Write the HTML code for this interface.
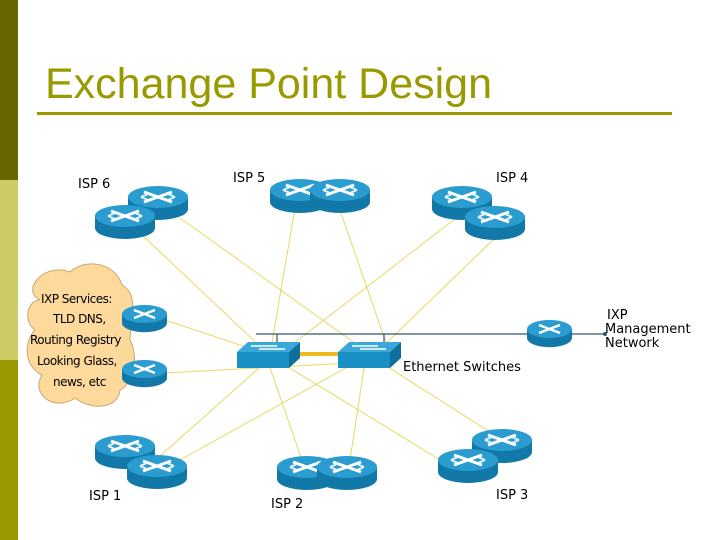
<!DOCTYPE html>
<html><head><style>
body{margin:0;width:720px;height:540px;background:#fff;overflow:hidden;position:relative;font-family:"Liberation Sans",sans-serif}
</style></head><body>
<svg width="720" height="540" style="position:absolute;left:0;top:0">
<defs>
<g id="r">
<path d="M0,11 L0,23 A30,11 0 0 0 60,23 L60,11 Z" fill="#1178a8"/>
<ellipse cx="30" cy="11" rx="30" ry="11" fill="#2a9ccf"/>
<path d="M16,6 L44,16 M44,6 L16,16" stroke="#fff" stroke-width="3"/>
<path d="M13,11 L20,8 M47,11 L40,8 M13,11 L20,14 M47,11 L40,14" stroke="#e8f4fa" stroke-width="2"/>
</g>
<g id="rs">
<path d="M0,9 L0,18 A22,9 0 0 0 45,18 L45,9 Z" fill="#1178a8"/>
<ellipse cx="22.5" cy="9" rx="22.5" ry="9" fill="#2a9ccf"/>
<path d="M12,5 L33,13 M33,5 L12,13" stroke="#fff" stroke-width="2.5"/>
</g>
<g id="s">
<path d="M0,12 L52,12 L63,2 L11,2 Z" fill="#3aa8d8"/>
<path d="M0,12 L52,12 L52,28 L0,28 Z" fill="#1a8fc4"/>
<path d="M52,12 L63,2 L63,18 L52,28 Z" fill="#0f6f9c"/>
<path d="M14,6 L40,6 M22,9 L48,9" stroke="#fff" stroke-width="1.5"/>
</g>
</defs>
<rect x="0" y="0" width="18" height="180" fill="#666600"/>
<rect x="0" y="180" width="18" height="180" fill="#cccc66"/>
<rect x="0" y="360" width="18" height="180" fill="#999900"/>
<text x="45" y="98" font-size="43" fill="#999900">Exchange Point Design</text>
<rect x="37" y="112" width="635" height="3" fill="#999900"/>
<path d="M40,300 C20,290 45,262 70,272 C85,258 115,262 122,285 C140,295 130,320 130,340 C140,360 132,385 120,390 C118,410 90,410 75,398 C55,412 30,395 42,375 C22,365 25,340 35,330 C22,320 28,300 40,300 Z" fill="#fdd99b" stroke="#c8a870" stroke-width="1"/>
<g stroke="#e8d860" stroke-width="1" fill="none">
<line x1="140" y1="233" x2="268" y2="354"/>
<line x1="180" y1="218" x2="370" y2="354"/>
<line x1="295" y1="208" x2="270" y2="354"/>
<line x1="340" y1="210" x2="390" y2="354"/>
<line x1="460" y1="215" x2="280" y2="354"/>
<line x1="495" y1="238" x2="375" y2="354"/>
<line x1="165" y1="320" x2="255" y2="350"/>
<line x1="165" y1="373" x2="350" y2="363"/>
<line x1="150" y1="465" x2="268" y2="360"/>
<line x1="180" y1="460" x2="360" y2="360"/>
<line x1="302" y1="460" x2="268" y2="362"/>
<line x1="350" y1="460" x2="365" y2="362"/>
<line x1="440" y1="460" x2="280" y2="362"/>
<line x1="490" y1="432" x2="380" y2="362"/>
</g>
<path d="M256,334 L527,334 M572,334 L605,334 M277,334 L277,342 M384,334 L384,342" stroke="#2a5a70" stroke-width="1.2"/>
<circle cx="605" cy="334" r="2" fill="#2a5a70"/>
<rect x="288" y="352" width="52" height="4" fill="#f0b820"/>
<use href="#r" x="128" y="186"/><use href="#r" x="95" y="205"/>
<use href="#r" x="270" y="179"/><use href="#r" x="310" y="179"/>
<use href="#r" x="432" y="186"/><use href="#r" x="465" y="206"/>
<use href="#rs" x="122" y="305"/><use href="#rs" x="122" y="360"/>
<use href="#rs" x="527" y="320"/>
<use href="#s" x="237" y="340"/><use href="#s" x="338" y="340"/>
<use href="#r" x="95" y="435"/><use href="#r" x="127" y="455"/>
<use href="#r" x="277" y="456"/><use href="#r" x="317" y="456"/>
<use href="#r" x="472" y="429"/><use href="#r" x="438" y="449"/>
<g font-family="DejaVu Sans,sans-serif" font-size="13" fill="#000">
<text x="78" y="188">ISP 6</text>
<text x="233" y="182">ISP 5</text>
<text x="496" y="182">ISP 4</text>
<text x="89" y="500">ISP 1</text>
<text x="271" y="508">ISP 2</text>
<text x="496" y="499">ISP 3</text>
<text x="403" y="371">Ethernet Switches</text>
<text x="607" y="319">IXP</text>
<text x="605" y="333">Management</text>
<text x="605" y="347">Network</text>
</g>
<g font-family="DejaVu Sans,sans-serif" font-size="12" fill="#000" letter-spacing="-0.5">
<text x="41" y="303">IXP Services:</text>
<text x="53" y="323">TLD DNS,</text>
<text x="30" y="344">Routing Registry</text>
<text x="37" y="365">Looking Glass,</text>
<text x="53" y="386">news, etc</text>
</g>
</svg>
</body></html>
